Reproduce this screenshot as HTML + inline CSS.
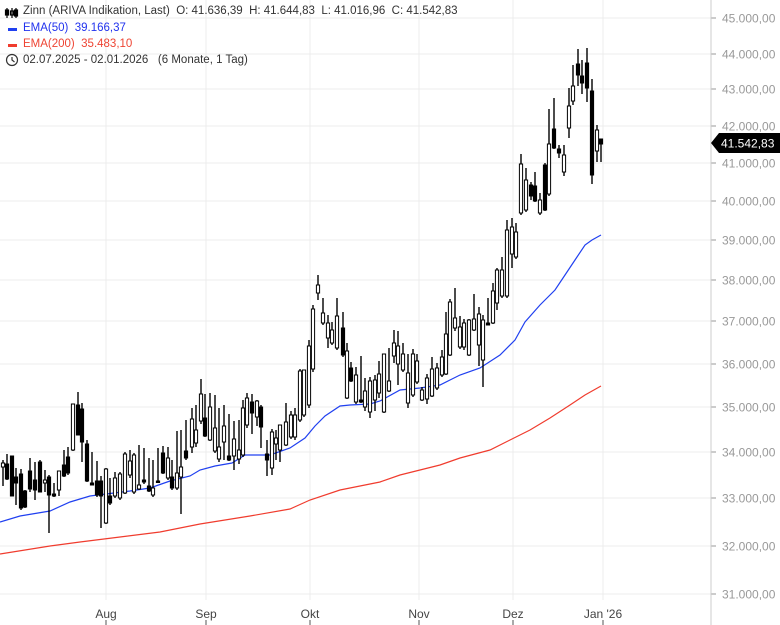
<!DOCTYPE html>
<html><head><meta charset="utf-8"><style>
body{margin:0;background:#fff;width:780px;height:625px;overflow:hidden;font-family:"Liberation Sans",sans-serif}
svg{position:absolute;left:0;top:0}
.lg{position:absolute;left:23px;font-size:11.5px;color:#333;white-space:nowrap}
</style></head><body>
<svg id="s" width="780" height="625" xmlns="http://www.w3.org/2000/svg"></svg>
<div class="lg" style="top:5px">Zinn (ARIVA Indikation, Last)&nbsp; O: 41.636,39&nbsp; H: 41.644,83&nbsp; L: 41.016,96&nbsp; C: 41.542,83</div>
<div class="lg" style="top:22px;color:#2233ee">EMA(50)&nbsp; 39.166,37</div>
<div class="lg" style="top:38px;color:#ee4433">EMA(200)&nbsp; 35.483,10</div>
<div class="lg" style="top:54px">02.07.2025 - 02.01.2026&nbsp;&nbsp; (6 Monate, 1 Tag)</div>
<script>
const S=document.getElementById('s');let h='';
const ticks=[[45000,18],[44000,54],[43000,89],[42000,126],[41000,163],[40000,201],[39000,240],[38000,280],[37000,321],[36000,364],[35000,407],[34000,452],[33000,498],[32000,546],[31000,594]];
for(const [v,y] of ticks){h+=`<line x1="0" x2="711" y1="${y}" y2="${y}" stroke="#ececec"/>`;
h+=`<line x1="711" x2="716" y1="${y}" y2="${y}" stroke="#999"/>`;
h+=`<text x="722" y="${y+4.5}" font-size="12" fill="#999" font-family="Liberation Sans">${(v/1000).toFixed(3)},00</text>`;}
const mons=[[106,'Aug'],[206,'Sep'],[310,'Okt'],[419,'Nov'],[513,'Dez'],[603,"Jan '26"]];
for(const [x,t] of mons){h+=`<line x1="${x}" x2="${x}" y1="0" y2="600" stroke="#ececec"/>`;
h+=`<line x1="${x}" x2="${x}" y1="620" y2="625" stroke="#555"/>`;
h+=`<text x="${x}" y="618" font-size="12" fill="#444" text-anchor="middle" font-family="Liberation Sans">${t}</text>`;}
h+=`<line x1="711" x2="711" y1="0" y2="625" stroke="#ccc"/>`;
const red=[[0,554],[50,546],[80,542],[120,537],[160,532],[200,524],[250,516],[290,509],[310,500],[340,490],[380,482],[400,475],[440,465],[460,458],[490,450],[510,440],[530,430],[550,418],[570,405],[585,395],[601,386]];
const blue=[[0,522],[20,516],[50,511],[70,502],[90,496],[130,491],[150,488],[170,481],[190,476],[200,470],[215,466],[232,463],[245,455],[270,455],[290,448],[305,438],[315,426],[325,416],[340,406],[350,405],[370,404],[380,401],[400,390],[420,388],[440,385],[450,380],[460,375],[480,368],[500,355],[515,340],[525,322],[540,305],[555,290],[565,275],[575,260],[585,245],[592,240],[601,235]];
const pl=a=>a.map(p=>p.join(',')).join(' ');
h+=`<polyline points="${pl(red)}" fill="none" stroke="#f03c2e" stroke-width="1.2"/>`;
h+=`<polyline points="${pl(blue)}" fill="none" stroke="#2040f0" stroke-width="1.2"/>`;
const C=[[3,463,467,460,486,0],[7,464,479,454,480,1],[12,456,496,456,496,1],[16,477,483,468,505,1],[21,474,508,469,510,1],[25,491,507,490,508,1],[30,471,489,458,492,1],[35,480,490,462,500,1],[40,462,492,460,492,1],[45,480,483,470,492,0],[49,477,495,475,533,1],[54,494,496,483,497,1],[59,471,490,471,496,0],[64,465,476,450,477,1],[68,457,473,447,475,1],[73,404,450,404,451,0],[78,405,435,392,435,1],[82,409,442,403,462,1],[87,444,481,440,482,1],[92,483,485,452,485,1],[97,481,495,461,497,1],[101,481,496,476,528,1],[106,469,523,468,524,0],[110,496,503,478,505,1],[115,478,496,472,498,0],[120,474,498,472,500,0],[125,454,493,452,494,0],[130,461,475,450,478,0],[134,455,492,453,494,0],[139,485,489,445,490,0],[144,480,482,448,484,1],[149,486,491,458,492,1],[153,488,495,460,497,0],[158,481,482,448,483,1],[163,453,473,446,474,1],[168,458,478,447,480,0],[172,477,488,460,490,1],[177,473,488,431,490,0],[181,467,477,430,514,0],[186,451,458,420,460,1],[192,419,447,408,453,0],[196,430,443,405,447,0],[201,394,421,379,424,0],[205,418,436,394,437,1],[210,407,440,393,441,0],[215,428,451,395,453,0],[219,447,459,408,462,0],[224,426,442,405,460,0],[229,456,460,414,461,1],[234,439,456,421,470,0],[239,450,459,420,464,0],[243,408,455,400,457,0],[247,398,425,393,428,0],[252,402,413,394,434,1],[257,401,417,400,426,0],[261,407,427,405,448,1],[267,454,460,440,476,1],[272,432,468,429,475,0],[276,438,444,430,460,0],[280,425,450,425,462,0],[286,422,445,403,446,0],[291,415,437,411,439,0],[295,415,437,408,440,0],[300,371,420,369,422,0],[304,370,415,370,417,0],[309,346,405,340,408,0],[313,309,369,305,372,0],[318,285,293,275,300,0],[323,313,323,298,325,0],[328,323,338,315,348,0],[332,330,343,322,345,0],[337,316,348,298,350,0],[343,328,355,312,357,1],[347,351,398,343,399,0],[351,368,381,362,382,1],[356,375,402,367,404,0],[361,400,402,356,403,1],[365,391,407,378,411,0],[370,381,412,377,418,0],[375,380,400,375,411,0],[379,374,393,361,398,0],[384,354,412,354,413,0],[389,381,391,348,392,0],[394,343,356,330,363,0],[398,346,364,331,385,0],[403,354,370,343,372,0],[408,373,403,354,408,0],[413,354,395,349,397,0],[417,361,382,354,384,0],[422,390,400,387,401,0],[427,378,399,374,404,0],[432,369,396,357,397,0],[437,368,388,363,390,0],[442,357,375,350,377,0],[446,334,374,312,375,0],[450,302,355,299,356,0],[455,318,328,288,331,0],[460,327,347,316,349,0],[464,323,347,319,350,0],[469,320,355,319,356,0],[474,319,330,294,331,0],[479,314,345,307,366,0],[483,320,360,315,387,0],[488,323,325,298,325,1],[493,291,323,283,324,0],[497,270,303,268,310,0],[502,270,296,257,298,0],[507,230,296,220,298,0],[512,227,254,218,268,0],[516,232,257,223,259,0],[521,164,213,154,215,0],[526,180,210,168,212,0],[531,185,196,182,200,1],[535,186,201,172,202,1],[540,200,213,193,215,0],[545,165,210,163,211,1],[549,144,194,109,196,0],[554,129,148,98,149,1],[559,149,153,145,158,1],[564,155,172,145,176,0],[569,106,128,88,138,0],[573,86,101,65,105,0],[578,64,75,49,86,1],[582,76,83,60,94,1],[587,63,88,48,102,1],[592,91,175,79,184,1],[597,130,151,125,162,0],[601,139,144,139,162,1]];
for(const [x,t,b,hi,lo,f] of C){
h+=`<line x1="${x}" x2="${x}" y1="${hi}" y2="${lo}" stroke="#000" stroke-width="1.4"/>`;
const hh=Math.max(b-t,1.5);
h+=`<rect x="${x-1.6}" y="${t}" width="3.2" height="${hh}" fill="${f?'#000':'#fff'}" stroke="#000" stroke-width="1"/>`;}
h+=`<path d="M711,143 L719,133 L780,133 L780,153 L719,153 Z" fill="#000"/>`;
h+=`<text x="721" y="147.5" font-size="12" fill="#fff" font-family="Liberation Sans">41.542,83</text>`;
h+=`<g stroke="#000" stroke-width="1.2" fill="none"><line x1="7" x2="7" y1="8" y2="18"/><rect x="5.5" y="10" width="3" height="5" fill="#000"/><line x1="12" x2="12" y1="8" y2="18"/><rect x="10.5" y="11" width="3" height="4"/><line x1="16" x2="16" y1="8" y2="18"/><rect x="14.5" y="10" width="3" height="6" fill="#000"/></g>`;
h+=`<rect x="8" y="28" width="9" height="3" fill="#2040f0"/><rect x="8" y="44" width="9" height="3" fill="#f03c2e"/>`;
h+=`<circle cx="12" cy="60" r="5.5" fill="none" stroke="#333" stroke-width="1.2"/><path d="M12,57 L12,60 L14.5,62" fill="none" stroke="#333" stroke-width="1.2"/>`;
S.innerHTML=h;
</script>
</body></html>
